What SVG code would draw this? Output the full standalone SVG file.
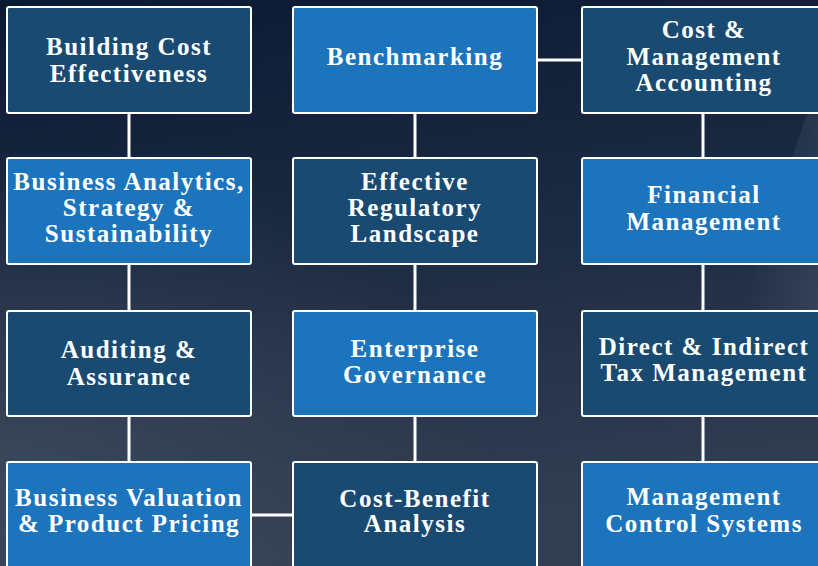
<svg xmlns="http://www.w3.org/2000/svg" width="818" height="566" viewBox="0 0 818 566">
<defs>
<linearGradient id="bg" x1="0" y1="0" x2="0.2" y2="1">
<stop offset="0" stop-color="#0b1a33"/>
<stop offset="0.45" stop-color="#1a2940"/>
<stop offset="1" stop-color="#323d52"/>
</linearGradient>
<radialGradient id="glow" cx="0" cy="0.85" r="0.6">
<stop offset="0" stop-color="#4a5568" stop-opacity="0.55"/>
<stop offset="1" stop-color="#4a5568" stop-opacity="0"/>
</radialGradient>
<linearGradient id="streak" x1="0" y1="0" x2="1" y2="0">
<stop offset="0" stop-color="#8a95a8" stop-opacity="0"/>
<stop offset="1" stop-color="#8a95a8" stop-opacity="0.15"/>
</linearGradient>
</defs>
<style>
.dk{fill:#194a72;stroke:#ffffff;stroke-width:2}
.lt{fill:#1c75bc;stroke:#ffffff;stroke-width:2}
text{font-family:"Liberation Serif","Times New Roman",serif;font-weight:bold;font-size:25px;fill:#ffffff;text-anchor:middle;letter-spacing:1.5px}
.cn line{stroke:#ffffff;stroke-width:3}
</style>
<rect x="0" y="0" width="818" height="566" fill="url(#bg)"/>
<rect x="0" y="0" width="818" height="566" fill="url(#glow)"/>
<path d="M818 80 L745 300 L818 420 Z" fill="url(#streak)"/>
<g id="connectors" class="cn">
<line x1="129" y1="113" x2="129" y2="158"/>
<line x1="129" y1="264" x2="129" y2="311"/>
<line x1="129" y1="416" x2="129" y2="462"/>
<line x1="415" y1="113" x2="415" y2="158"/>
<line x1="415" y1="264" x2="415" y2="311"/>
<line x1="415" y1="416" x2="415" y2="462"/>
<line x1="703" y1="113" x2="703" y2="158"/>
<line x1="703" y1="264" x2="703" y2="311"/>
<line x1="703" y1="416" x2="703" y2="462"/>
<line x1="537" y1="60" x2="582" y2="60"/>
<line x1="251" y1="515" x2="293" y2="515"/>
</g>
<g id="n1"><rect class="dk" x="7" y="7" width="244" height="106" rx="2"/><text x="129" y="55">Building Cost</text><text x="129" y="82">Effectiveness</text></g>
<g id="n2"><rect class="lt" x="293" y="7" width="244" height="106" rx="2"/><text x="415" y="65">Benchmarking</text></g>
<g id="n3"><rect class="dk" x="582" y="7" width="244" height="106" rx="2"/><text x="704" y="38">Cost &amp;</text><text x="704" y="65">Management</text><text x="704" y="91">Accounting</text></g>
<g id="n4"><rect class="lt" x="7" y="158" width="244" height="106" rx="2"/><text x="129" y="190">Business Analytics,</text><text x="129" y="216">Strategy &amp;</text><text x="129" y="242">Sustainability</text></g>
<g id="n5"><rect class="dk" x="293" y="158" width="244" height="106" rx="2"/><text x="415" y="190">Effective</text><text x="415" y="216">Regulatory</text><text x="415" y="242">Landscape</text></g>
<g id="n6"><rect class="lt" x="582" y="158" width="244" height="106" rx="2"/><text x="704" y="203">Financial</text><text x="704" y="230">Management</text></g>
<g id="n7"><rect class="dk" x="7" y="311" width="244" height="105" rx="2"/><text x="129" y="358">Auditing &amp;</text><text x="129" y="385">Assurance</text></g>
<g id="n8"><rect class="lt" x="293" y="311" width="244" height="105" rx="2"/><text x="415" y="357">Enterprise</text><text x="415" y="383">Governance</text></g>
<g id="n9"><rect class="dk" x="582" y="311" width="244" height="105" rx="2"/><text x="704" y="355">Direct &amp; Indirect</text><text x="704" y="381">Tax Management</text></g>
<g id="n10"><rect class="lt" x="7" y="462" width="244" height="110" rx="2"/><text x="129" y="506">Business Valuation</text><text x="129" y="532">&amp; Product Pricing</text></g>
<g id="n11"><rect class="dk" x="293" y="462" width="244" height="110" rx="2"/><text x="415" y="507">Cost-Benefit</text><text x="415" y="532">Analysis</text></g>
<g id="n12"><rect class="lt" x="582" y="462" width="244" height="110" rx="2"/><text x="704" y="505">Management</text><text x="704" y="532">Control Systems</text></g>
</svg>
